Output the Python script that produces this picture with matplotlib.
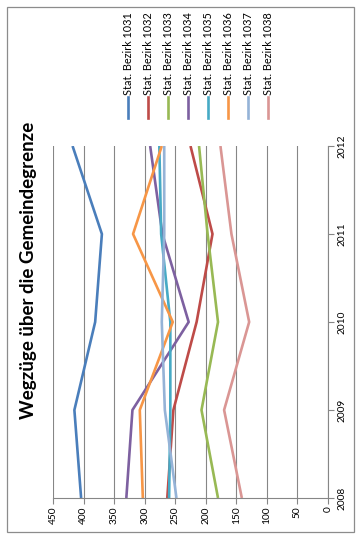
import matplotlib
matplotlib.use("Agg")
import matplotlib.pyplot as plt
from matplotlib.lines import Line2D
from matplotlib.patches import Rectangle

# daten
jahre = [2008, 2009, 2010, 2011, 2012]
bezirke = ["Stat. Bezirk 1031", "Stat. Bezirk 1032", "Stat. Bezirk 1033", "Stat. Bezirk 1034",
           "Stat. Bezirk 1035", "Stat. Bezirk 1036", "Stat. Bezirk 1037", "Stat. Bezirk 1038"]
b1031 = [404, 415, 381, 370, 418]
b1032 = [263, 253, 215, 189, 225]
b1033 = [180, 207, 180, 197, 211]
b1034 = [330, 320, 228, 271, 291]
b1035 = [260, 258, 258, 273, 276]
b1036 = [303, 308, 254, 319, 272]
b1037 = [248, 267, 272, 268, 268]
b1038 = [141, 170, 129, 158, 176]
werte = [b1031, b1032, b1033, b1034, b1035, b1036, b1037, b1038]
farben = ["#4A7EBB", "#BE4B48", "#98B954", "#7D60A0", "#46AAC5", "#F79646", "#95B3D7", "#DA9694"]
yticks_werte = [0, 50, 100, 150, 200, 250, 300, 350, 400, 450]

W, H = 358, 541
plt.rcParams['font.family'] = ['Lato', 'DejaVu Sans']

def fx(x):
    return x / W

def fy(y):
    return 1 - y / H

fig = plt.figure(figsize=(W / 100, H / 100), dpi=100)

# rahmen
fig.add_artist(Rectangle((fx(7), fy(532)), fx(354) - fx(7), fy(7) - fy(532),
                         transform=fig.transFigure, fill=False, ec="#8c8c8c", lw=0.9))

# diagramm (gedreht: werte horizontal, jahre vertikal)
ax = fig.add_axes([fx(53), fy(498), fx(328) - fx(53), fy(146) - fy(498)])
for i in range(len(werte)):
    ax.plot(werte[i], jahre, color=farben[i], lw=1.9, solid_capstyle='butt')

ax.set_xlim(450, 0)
ax.set_ylim(2008, 2012)
ax.set_xticks(yticks_werte)
ax.set_xticklabels([str(v) for v in yticks_werte], rotation=90)
ax.set_yticks(jahre)
ax.yaxis.tick_right()
ax.set_yticklabels([str(j) for j in jahre], rotation=90, va='center')
ax.grid(axis='x', color="#868686", lw=0.8)
ax.set_axisbelow(True)
for s in ['top', 'left']:
    ax.spines[s].set_visible(False)
for s in ['bottom', 'right']:
    ax.spines[s].set_color("#868686")
    ax.spines[s].set_linewidth(0.8)
ax.tick_params(axis='both', colors="#868686", labelcolor="black", labelsize=7.3, length=4, width=0.8)
ax.tick_params(axis='x', pad=2)
ax.tick_params(axis='y', pad=3)

# titel
fig.text(fx(29), fy(270), "Wegzüge über die Gemeindegrenze", rotation=90,
         ha='center', va='center', fontsize=13.5, fontweight='bold')

# legende
for i in range(len(bezirke)):
    lx = 128 + i * 20
    fig.add_artist(Line2D([fx(lx), fx(lx)], [fy(118), fy(97)], transform=fig.transFigure,
                          color=farben[i], lw=1.9))
    fig.text(fx(lx), fy(95), bezirke[i], rotation=90, ha='center', va='bottom', fontsize=7.8)

fig.savefig("out.png", dpi=100)
